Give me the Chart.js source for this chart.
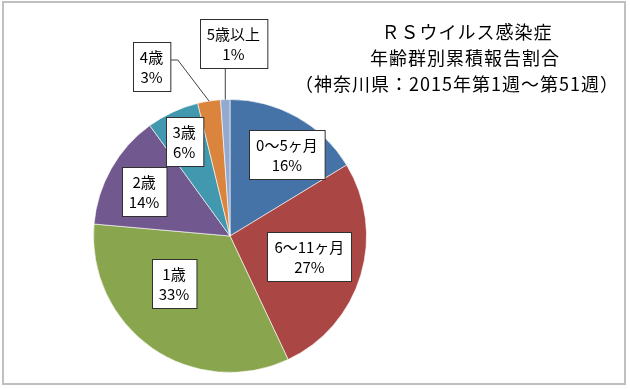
<!DOCTYPE html>
<html>
<head>
<meta charset="utf-8">
<script src="https://cdn.jsdelivr.net/npm/chart.js@4.4.1/dist/chart.umd.min.js"></script>
<style>
  html, body { margin: 0; padding: 0; background: #fff; }
  #wrap { width: 630px; height: 389px; position: relative; }
</style>
</head>
<body>
<div id="wrap"><canvas id="rsv-chart" width="630" height="389"></canvas></div>
<script>
// Data (% of reported cases)
const categories = ['0～5ヶ月', '6～11ヶ月', '1歳', '2歳', '3歳', '4歳', '5歳以上'];
const shares = [16.3, 26.7, 33.4, 13.6, 6.2, 2.7, 1.1];
const titleLines = ['ＲＳウイルス感染症', '年齢群別累積報告割合', '（神奈川県：2015年第1週～第51週）'];

const sliceColors = ['#4572A7', '#AA4643', '#89A54E', '#71588F', '#4198AF', '#DB843D', '#93A9CF'];

// where each label box sits: fraction of radius, angle nudge (deg), leader line or not
const labelPlacement = [
  { f: 0.73, da: 5.5 },
  { f: 0.60, da: -2.5 },
  { f: 0.54, da: 14.5 },
  { f: 0.71, da: -2 },
  { f: 0.77, da: -1 },
  { f: 1.37, da: -16, leader: true },
  { f: 1.41, da: 3, leader: true },
];

const labelFont = '15px "Noto Sans CJK JP", "Noto Sans", sans-serif';

const boxLabels = {
  id: 'boxLabels',
  afterDatasetsDraw(chart) {
    const { ctx } = chart;
    const meta = chart.getDatasetMeta(0);
    const values = chart.data.datasets[0].data;
    const total = values.reduce((a, b) => a + b, 0);
    ctx.save();
    ctx.font = labelFont;
    ctx.textAlign = 'center';
    ctx.textBaseline = 'middle';
    meta.data.forEach((arc, i) => {
      const p = labelPlacement[i];
      const { x, y, startAngle, endAngle, outerRadius } = arc.getProps(['x', 'y', 'startAngle', 'endAngle', 'outerRadius'], true);
      const mid = (startAngle + endAngle) / 2;
      const a = mid + p.da * Math.PI / 180;
      const cx = x + Math.cos(a) * outerRadius * p.f;
      const cy = y + Math.sin(a) * outerRadius * p.f;
      const lines = [chart.data.labels[i], Math.round(values[i] / total * 100) + '%'];
      const w = Math.max(...lines.map(t => ctx.measureText(t).width)) + 14;
      const h = 49;
      const left = Math.round(cx - w / 2) + 0.5;
      const top = Math.round(cy - h / 2) + 0.5;

      if (p.leader) {
        const ex = x + Math.cos(mid) * outerRadius;
        const ey = y + Math.sin(mid) * outerRadius;
        ctx.strokeStyle = '#404040';
        ctx.lineWidth = 1;
        ctx.beginPath();
        if (ex >= left && ex <= left + w) {
          ctx.moveTo(ex, ey);
          ctx.lineTo(ex, top + h);
        } else {
          const my = top + h / 2 - 7;
          ctx.moveTo(ex, ey);
          ctx.lineTo(left + w + 7, my);
          ctx.lineTo(left + w, my);
        }
        ctx.stroke();
      }

      ctx.fillStyle = '#fff';
      ctx.fillRect(left, top, w, h);
      ctx.strokeStyle = '#303030';
      ctx.lineWidth = 1;
      ctx.strokeRect(left, top, w, h);
      ctx.fillStyle = '#000';
      ctx.fillText(lines[0], cx, top + h / 2 - 10);
      ctx.fillText(lines[1], cx, top + h / 2 + 10);
    });
    ctx.restore();
  },
};

const sideTitle = {
  id: 'sideTitle',
  afterDraw(chart) {
    const { ctx } = chart;
    ctx.save();
    // outer frame
    ctx.strokeStyle = '#c0c0c0';
    ctx.lineWidth = 2;
    ctx.strokeRect(3, 2, 622, 382);
    ctx.fillStyle = '#000';
    ctx.font = '18px "Noto Sans CJK JP", "Noto Sans", sans-serif';
    ctx.letterSpacing = '1px';
    ctx.textAlign = 'center';
    ctx.textBaseline = 'middle';
    const xs = [467, 465, 457];
    const ys = [32, 58, 84];
    titleLines.forEach((t, i) => ctx.fillText(t, xs[i], ys[i]));
    ctx.restore();
  },
};

new Chart(document.getElementById('rsv-chart'), {
  type: 'pie',
  data: {
    labels: categories,
    datasets: [{
      data: shares,
      backgroundColor: sliceColors,
      borderColor: 'rgba(255,255,255,0.6)',
      borderWidth: 1,
    }],
  },
  options: {
    responsive: false,
    animation: false,
    layout: {
      padding: { left: 93, right: 263, top: 99, bottom: 16 },
    },
    plugins: {
      legend: { display: false },
      tooltip: { enabled: false },
    },
  },
  plugins: [boxLabels, sideTitle],
});
</script>
</body>
</html>
